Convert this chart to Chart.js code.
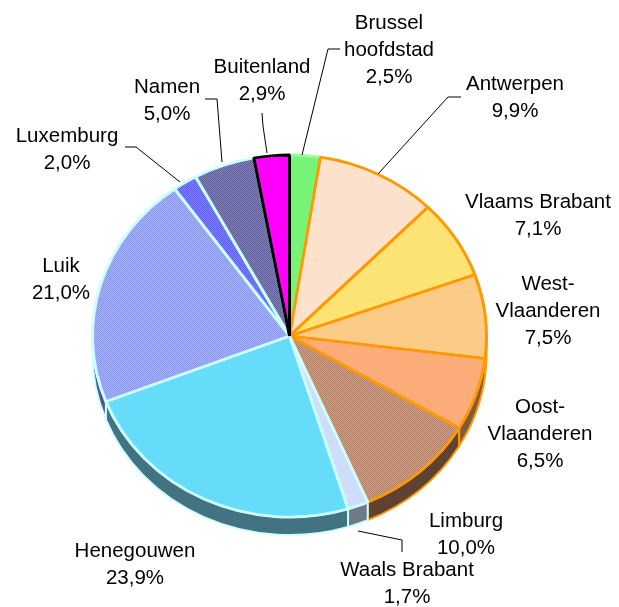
<!DOCTYPE html>
<html>
<head>
<meta charset="utf-8">
<script src="https://cdn.jsdelivr.net/npm/chart.js@4"></script>
<style>
  body { margin: 0; background: #fff; }
  #wrap { width: 619px; height: 607px; }
</style>
</head>
<body>
<div id="wrap"><canvas id="pieChart" width="619" height="607"></canvas></div>
<script>
// data
var categories = ["Brussel\nhoofdstad", "Antwerpen", "Vlaams Brabant", "West-\nVlaanderen", "Oost-\nVlaanderen",
  "Limburg", "Waals Brabant", "Henegouwen", "Luik", "Luxemburg", "Namen", "Buitenland"];
var shares = [2.5, 9.9, 7.1, 7.5, 6.5, 10.0, 1.7, 23.9, 21.0, 2.0, 5.0, 2.9];

// styles: two tones per slice, mixed in a fine checker like the Excel pattern fill
var topTones = [
  ["#44ee44", "#aaffaa"], ["#ffd5b3", "#fff1e6"], ["#ffd84a", "#fff0a0"], ["#ffbb66", "#ffdca8"],
  ["#ff9955", "#ffc29c"], ["#a66a4e", "#dfb6a0"], ["#b8ccff", "#e8efff"], ["#33ccff", "#9aeeff"],
  ["#7786ee", "#bcc4ff"], ["#4444ff", "#9a9aff"], ["#454588", "#9c9ccc"], ["#ff00ff", "#ff00ff"]
];
var sideTones = [
  ["#2a8a2a", "#55aa55"], ["#8a6a50", "#b09078"], ["#8a7420", "#b09a50"], ["#8a5a20", "#b08050"],
  ["#6b4528", "#9a7050"], ["#452c1e", "#7a5a48"], ["#556070", "#8a94a4"], ["#2c5d6c", "#5a8a98"],
  ["#383e70", "#6a70a0"], ["#2a2a90", "#5a5ab0"], ["#303060", "#606090"], ["#990099", "#990099"]
];
var borderColors = ["#99ff99", "#ff9900", "#ff9900", "#ff9900", "#ff9900", "#ff9900",
  "#ccffff", "#ccffff", "#ccffff", "#ccffff", "#ccffff", "#000000"];

var tilt = 181 / 197; // vertical squash of the top face
var depth = 18;       // height of the pie side, in screen px

// label layout: centre x, first baseline y
var labelPos = [[389, 29], [515, 90], [538, 208], [548, 290], [540, 413], [466, 527],
  [407, 576], [135, 557], [61, 272], [67, 142], [167, 93], [262, 73]];
var leaders = [
  [[340, 49], [328, 49], [302, 155]],
  [[461, 97], [448, 97], [378, 174]],
  null, null, null, null,
  [[358, 531], [402, 540], [402, 552]],
  null, null,
  [[125, 147], [136, 147], [180, 182]],
  [[205, 99], [217, 99], [222, 162]],
  [[262, 113], [263, 126], [267, 153]]
];

function makePattern(c1, c2) {
  var tile = document.createElement("canvas");
  tile.width = 2;
  tile.height = 2;
  var t = tile.getContext("2d");
  t.fillStyle = c1;
  t.fillRect(0, 0, 2, 2);
  t.fillStyle = c2;
  t.fillRect(0, 0, 1, 1);
  t.fillRect(1, 1, 1, 1);
  var p = t.createPattern(tile, "repeat");
  // the pie is drawn under a vertical squash; undo it so the checker stays pixel-sharp
  p.setTransform(new DOMMatrix().scale(1, 1 / tilt));
  return p;
}

var topPatterns = topTones.map(function (c) { return makePattern(c[0], c[1]); });
var sidePatterns = sideTones.map(function (c) { return makePattern(c[0], c[1]); });

function fmtPct(v) {
  return v.toFixed(1).replace(".", ",") + "%";
}

// squash the pie and draw its side before the slices are painted
var pie3d = {
  id: "pie3d",
  beforeDatasetsDraw: function (chart) {
    var ctx = chart.ctx;
    var meta = chart.getDatasetMeta(0);
    var cx = meta.data[0].x, cy = meta.data[0].y, r = meta.data[0].outerRadius;
    ctx.save();
    ctx.translate(cx, cy);
    ctx.scale(1, tilt);
    ctx.translate(-cx, -cy);
    var d = depth / tilt;
    meta.data.forEach(function (arc, i) {
      var a = Math.max(arc.startAngle, 0);
      var b = Math.min(arc.endAngle, Math.PI);
      if (a >= b) return;
      ctx.beginPath();
      ctx.arc(cx, cy, r, a, b);
      ctx.lineTo(cx + r * Math.cos(b), cy + d + r * Math.sin(b));
      ctx.arc(cx, cy + d, r, b, a, true);
      ctx.closePath();
      ctx.fillStyle = sidePatterns[i];
      ctx.fill();
      ctx.lineWidth = 2;
      ctx.strokeStyle = borderColors[i];
      ctx.stroke();
    });
  },
  afterDatasetsDraw: function (chart) {
    chart.ctx.restore();
  }
};

var outsideLabels = {
  id: "outsideLabels",
  afterDraw: function (chart) {
    var ctx = chart.ctx;
    ctx.save();
    ctx.strokeStyle = "#000";
    ctx.lineWidth = 1;
    leaders.forEach(function (pts) {
      if (!pts) return;
      ctx.beginPath();
      ctx.moveTo(pts[0][0], pts[0][1]);
      for (var k = 1; k < pts.length; k++) ctx.lineTo(pts[k][0], pts[k][1]);
      ctx.stroke();
    });
    ctx.fillStyle = "#000";
    ctx.font = '20.5px "Liberation Sans", Arial, sans-serif';
    ctx.textAlign = "center";
    ctx.textBaseline = "alphabetic";
    categories.forEach(function (name, i) {
      var lines = name.split("\n").concat([fmtPct(shares[i])]);
      lines.forEach(function (txt, j) {
        ctx.fillText(txt, labelPos[i][0], labelPos[i][1] + j * 27);
      });
    });
    ctx.restore();
  }
};

var ctx = document.getElementById("pieChart").getContext("2d");
var pieChart = new Chart(ctx, {
  type: "pie",
  data: {
    labels: categories,
    datasets: [
      {
        data: shares,
        backgroundColor: topPatterns,
        borderColor: borderColors,
        borderWidth: 3,
        clip: false,
      },
    ],
  },
  options: {
    responsive: false,
    animation: false,
    events: [],
    devicePixelRatio: 1,
    radius: 197,
    layout: { padding: { left: 0, right: 40, top: 65, bottom: 0 } },
    plugins: {
      legend: { display: false },
      tooltip: { enabled: false },
    },
  },
  plugins: [pie3d, outsideLabels],
});
</script>
</body>
</html>
